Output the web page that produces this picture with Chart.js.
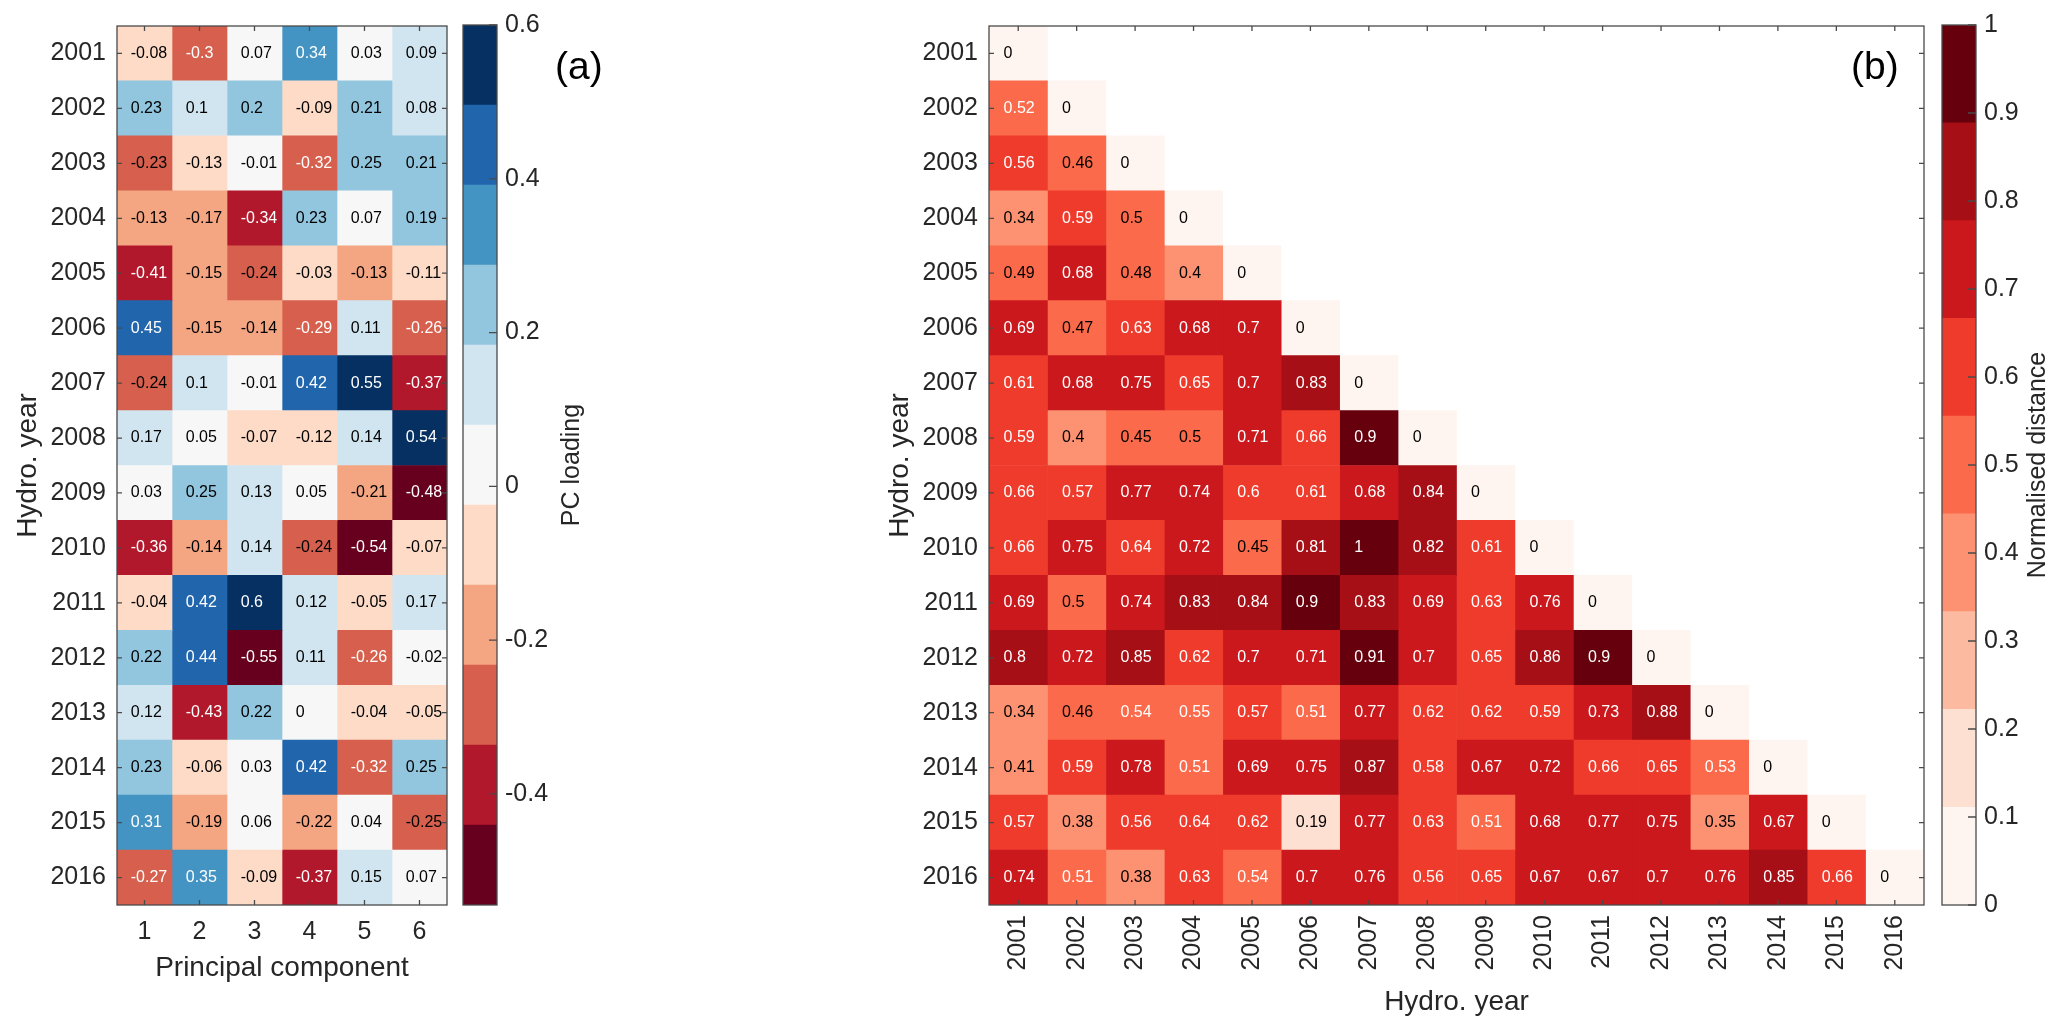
<!DOCTYPE html>
<html>
<head>
<meta charset="utf-8">
<script src="https://cdn.jsdelivr.net/npm/chart.js@4.4.1/dist/chart.umd.min.js"></script>
<style>
  html, body { margin: 0; padding: 0; background: #fff; }
  #wrap { position: relative; width: 2067px; height: 1027px; }
  #wrap canvas { position: absolute; left: 0; top: 0; }
</style>
</head>
<body>
<div id="wrap">
  <canvas id="heatA" width="2067" height="1027"></canvas>
  <canvas id="barA" width="2067" height="1027"></canvas>
  <canvas id="heatB" width="2067" height="1027"></canvas>
  <canvas id="barB" width="2067" height="1027"></canvas>
</div>
<script>
const years = ['2001', '2002', '2003', '2004', '2005', '2006', '2007', '2008',
               '2009', '2010', '2011', '2012', '2013', '2014', '2015', '2016'];
const components = ['1', '2', '3', '4', '5', '6'];

// PC loadings, one row per hydrological year, one column per component
// (a few third decimals estimated from the cell colour band)
const loadings = [
  [-0.08, -0.3, 0.07, 0.34, 0.03, 0.09],
  [0.23, 0.1, 0.2, -0.09, 0.21, 0.08],
  [-0.234, -0.126, -0.01, -0.32, 0.25, 0.21],
  [-0.13, -0.17, -0.34, 0.23, 0.07, 0.19],
  [-0.41, -0.15, -0.24, -0.03, -0.13, -0.11],
  [0.45, -0.15, -0.14, -0.29, 0.11, -0.26],
  [-0.24, 0.1, -0.01, 0.42, 0.55, -0.37],
  [0.17, 0.05, -0.07, -0.12, 0.14, 0.54],
  [0.03, 0.25, 0.13, 0.05, -0.21, -0.48],
  [-0.36, -0.14, 0.14, -0.24, -0.54, -0.07],
  [-0.04, 0.42, 0.6, 0.12, -0.05, 0.17],
  [0.22, 0.44, -0.55, 0.11, -0.26, -0.02],
  [0.12, -0.43, 0.22, 0, -0.04, -0.05],
  [0.23, -0.06, 0.03, 0.42, -0.32, 0.25],
  [0.31, -0.19, 0.06, -0.22, 0.04, -0.25],
  [-0.27, 0.35, -0.09, -0.37, 0.15, 0.07]
];

// normalised distance, lower triangle (row year vs column year)
const distances = [
  [0],
  [0.52, 0],
  [0.56, 0.46, 0],
  [0.34, 0.59, 0.5, 0],
  [0.49, 0.68, 0.48, 0.4, 0],
  [0.69, 0.47, 0.63, 0.68, 0.7, 0],
  [0.61, 0.68, 0.75, 0.65, 0.7, 0.83, 0],
  [0.59, 0.4, 0.45, 0.5, 0.71, 0.66, 0.9, 0],
  [0.66, 0.57, 0.77, 0.74, 0.6, 0.61, 0.68, 0.84, 0],
  [0.66, 0.75, 0.64, 0.72, 0.45, 0.81, 1, 0.82, 0.61, 0],
  [0.69, 0.5, 0.74, 0.83, 0.84, 0.9, 0.83, 0.69, 0.63, 0.76, 0],
  [0.8, 0.72, 0.85, 0.62, 0.7, 0.71, 0.91, 0.7, 0.65, 0.86, 0.9, 0],
  [0.34, 0.46, 0.54, 0.55, 0.57, 0.51, 0.77, 0.62, 0.62, 0.59, 0.73, 0.88, 0],
  [0.41, 0.59, 0.776, 0.51, 0.69, 0.75, 0.87, 0.58, 0.67, 0.72, 0.66, 0.65, 0.53, 0],
  [0.57, 0.38, 0.56, 0.64, 0.62, 0.19, 0.77, 0.63, 0.51, 0.68, 0.77, 0.75, 0.35, 0.67, 0],
  [0.74, 0.51, 0.38, 0.63, 0.54, 0.7, 0.76, 0.56, 0.65, 0.67, 0.67, 0.7, 0.76, 0.85, 0.66, 0]
];

const loadingTicks = [-0.4, -0.2, 0, 0.2, 0.4, 0.6];
const distanceTicks = [0, 0.1, 0.2, 0.3, 0.4, 0.5, 0.6, 0.7, 0.8, 0.9, 1];

const FONT = "'Liberation Sans', Arial, sans-serif";
const INK = '#262626';
const W = 2067, H = 1027;

const rdbu = ['#67001f', '#b2182b', '#d6604d', '#f4a582', '#fddbc7', '#f7f7f7',
              '#d1e5f0', '#92c5de', '#4393c3', '#2166ac', '#053061'];
const reds = ['#fff5f0', '#fee0d2', '#fcbba1', '#fc9272', '#fb6a4a', '#ef3b2c',
              '#cb181d', '#a50f15', '#67000d'];
const climA = [-0.5445, 0.6];
const climB = [0, 1];

function pick(colors, clim, v) {
  const k = Math.floor((v - clim[0]) / (clim[1] - clim[0]) * colors.length);
  return colors[Math.max(0, Math.min(colors.length - 1, k))];
}

function has(v) { return v !== null && v !== undefined; }

function fmt(v) { return String(Math.round(v * 100) / 100); }

function cellLabels(values, textColor) {
  return {
    id: 'cellLabels',
    afterDatasetsDraw(chart) {
      const { ctx, scales: { x, y } } = chart;
      ctx.save();
      ctx.font = '16px ' + FONT;
      ctx.textAlign = 'left';
      ctx.textBaseline = 'middle';
      values.forEach((row, i) => {
        row.forEach((v, j) => {
          if (!has(v)) return;
          ctx.fillStyle = textColor(v);
          ctx.fillText(fmt(v), x.getPixelForValue(j + 0.75), y.getPixelForValue(i));
        });
      });
      ctx.restore();
    }
  };
}

// box round the plot with ticks pointing inwards on all four sides
const frameTicks = {
  id: 'frameTicks',
  afterDatasetsDraw(chart) {
    const { ctx, chartArea: a, scales: { x, y } } = chart;
    const len = 5;
    ctx.save();
    ctx.strokeStyle = '#4a4a4a';
    ctx.lineWidth = 1.3;
    ctx.beginPath();
    x.ticks.forEach((t, i) => {
      const px = x.getPixelForTick(i);
      ctx.moveTo(px, a.bottom); ctx.lineTo(px, a.bottom - len);
      ctx.moveTo(px, a.top); ctx.lineTo(px, a.top + len);
    });
    y.ticks.forEach((t, i) => {
      const py = y.getPixelForTick(i);
      ctx.moveTo(a.left, py); ctx.lineTo(a.left + len, py);
      ctx.moveTo(a.right, py); ctx.lineTo(a.right - len, py);
    });
    ctx.stroke();
    ctx.strokeRect(a.left, a.top, a.right - a.left, a.bottom - a.top);
    ctx.restore();
  }
};

function panelLetter(text, x, y) {
  return {
    id: 'panelLetter',
    afterDraw(chart) {
      const ctx = chart.ctx;
      ctx.save();
      ctx.font = '39px ' + FONT;
      ctx.fillStyle = '#000';
      ctx.textAlign = 'left';
      ctx.textBaseline = 'alphabetic';
      ctx.fillText(text, x, y);
      ctx.restore();
    }
  };
}

function makeHeatmap(id, cols, values, colorOf, textColor, o) {
  const datasets = cols.map((c, j) => ({
    data: years.map((yr, i) => has(values[i][j]) ? [j + 0.5, j + 1.5] : null),
    backgroundColor: years.map((yr, i) => has(values[i][j]) ? colorOf(values[i][j]) : 'rgba(0,0,0,0)'),
    grouped: false,
    barPercentage: 1,
    categoryPercentage: 1,
    borderWidth: 0
  }));
  return new Chart(document.getElementById(id), {
    type: 'bar',
    data: { labels: years, datasets },
    options: {
      indexAxis: 'y',
      responsive: false,
      animation: false,
      devicePixelRatio: 1,
      events: [],
      layout: { padding: { left: o.left, top: 25, right: W - o.right, bottom: 0 } },
      plugins: { legend: { display: false }, tooltip: { enabled: false } },
      scales: {
        x: {
          type: 'linear',
          min: 0.5,
          max: cols.length + 0.5,
          afterBuildTicks: s => { s.ticks = cols.map((c, j) => ({ value: j + 1 })); },
          afterFit: s => { s.height = 122; },
          grid: { display: false, drawTicks: false },
          border: { display: false },
          ticks: {
            autoSkip: false,
            minRotation: o.rot,
            maxRotation: o.rot,
            padding: o.xPad,
            color: INK,
            font: { family: FONT, size: 25 },
            callback: v => cols[v - 1]
          },
          title: {
            display: true,
            text: o.xTitle,
            color: INK,
            font: { family: FONT, size: 28 },
            padding: { top: 0, bottom: o.xTitlePad }
          }
        },
        y: {
          afterFit: s => { s.width = o.yWidth; },
          grid: { display: false, drawTicks: false },
          border: { display: false },
          ticks: { autoSkip: false, padding: 11, color: INK, font: { family: FONT, size: 25 } },
          title: {
            display: true,
            text: 'Hydro. year',
            color: INK,
            font: { family: FONT, size: 28 },
            padding: { top: o.yTitlePad, bottom: 0 }
          }
        }
      }
    },
    plugins: [cellLabels(values, textColor), frameTicks, panelLetter(o.letter, o.letterX, 79)]
  });
}

function makeColorbar(id, colors, clim, ticks, left, right, label, labelX) {
  const step = (clim[1] - clim[0]) / colors.length;
  const cbFrame = {
    id: 'cbFrame',
    afterDatasetsDraw(chart) {
      const { ctx, chartArea: a, scales: { y } } = chart;
      ctx.save();
      ctx.strokeStyle = '#4a4a4a';
      ctx.lineWidth = 1.3;
      ctx.beginPath();
      y.ticks.forEach((t, i) => {
        const py = y.getPixelForTick(i);
        ctx.moveTo(a.right, py); ctx.lineTo(a.right - 8, py);
      });
      ctx.stroke();
      ctx.strokeRect(a.left, a.top, a.right - a.left, a.bottom - a.top);
      ctx.translate(labelX, (a.top + a.bottom) / 2);
      ctx.rotate(-Math.PI / 2);
      ctx.font = '25px ' + FONT;
      ctx.fillStyle = INK;
      ctx.textAlign = 'center';
      ctx.textBaseline = 'middle';
      ctx.fillText(label, 0, 0);
      ctx.restore();
    }
  };
  return new Chart(document.getElementById(id), {
    type: 'bar',
    data: {
      labels: [''],
      datasets: colors.map((c, k) => ({
        data: [[clim[0] + k * step, clim[0] + (k + 1) * step]],
        backgroundColor: c,
        grouped: false,
        barPercentage: 1,
        categoryPercentage: 1,
        borderWidth: 0
      }))
    },
    options: {
      responsive: false,
      animation: false,
      devicePixelRatio: 1,
      events: [],
      layout: { padding: { left: left, top: 25, right: W - right - 80, bottom: 122 } },
      plugins: { legend: { display: false }, tooltip: { enabled: false } },
      scales: {
        x: { display: false },
        y: {
          position: 'right',
          min: clim[0],
          max: clim[1],
          afterBuildTicks: s => { s.ticks = ticks.map(v => ({ value: v })); },
          afterFit: s => { s.width = 80; },
          grid: { display: false, drawTicks: false },
          border: { display: false },
          ticks: { padding: 8, color: INK, font: { family: FONT, size: 25 }, callback: v => String(v) }
        }
      }
    },
    plugins: [cbFrame]
  });
}

makeHeatmap('heatA', components, loadings,
  v => pick(rdbu, climA, v),
  v => Math.abs(v) > 0.255 ? '#ffffff' : '#000000',
  { left: 0, right: 447, yWidth: 117, rot: 0, xPad: 12, xTitle: 'Principal component',
    xTitlePad: 42, yTitlePad: 11, letter: '(a)', letterX: 555 });

makeColorbar('barA', rdbu, climA, loadingTicks, 463, 497, 'PC loading', 572);

makeHeatmap('heatB', years, distances,
  v => pick(reds, climB, v),
  v => v > 0.505 ? '#ffffff' : '#000000',
  { left: 849, right: 1924, yWidth: 140, rot: 90, xPad: 10, xTitle: 'Hydro. year',
    xTitlePad: 8, yTitlePad: 34, letter: '(b)', letterX: 1851 });

makeColorbar('barB', reds, climB, distanceTicks, 1942, 1976, 'Normalised distance', 2038);
</script>
</body>
</html>
